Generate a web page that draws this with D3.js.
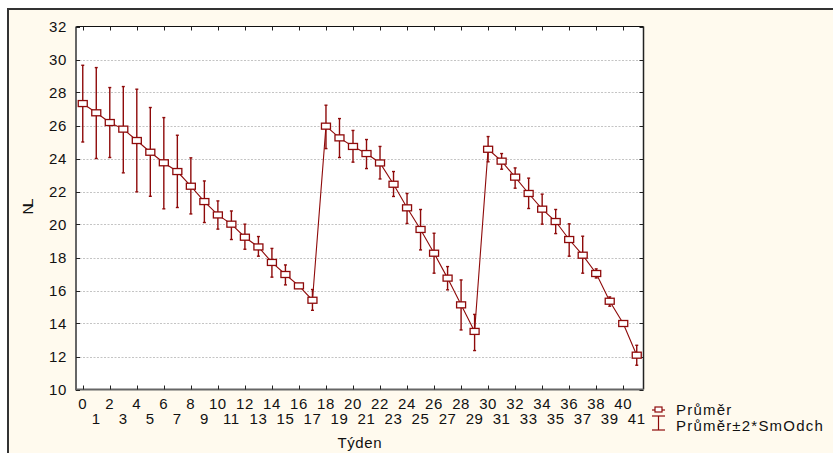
<!DOCTYPE html>
<html>
<head>
<meta charset="utf-8">
<script src="https://cdn.jsdelivr.net/npm/d3@7/dist/d3.min.js"></script>
<style>
  html, body { margin: 0; padding: 0; background: #ffffff; }
  svg { display: block; font-family: "Liberation Sans", Arial, sans-serif; }
  .lbl { font-size: 15px; letter-spacing: 0.6px; fill: #111; }
  .leg { font-size: 15px; letter-spacing: 1.2px; fill: #111; }
</style>
</head>
<body>
<svg id="chart" width="833" height="453"></svg>
<script>
// Weekly mean of NL with ±2 standard deviation bounds
const weeks = d3.range(0, 42);
const means = [27.33, 26.77, 26.18, 25.78, 25.09, 24.38, 23.74, 23.21, 22.32, 21.39,
               20.58, 20.02, 19.23, 18.64, 17.70, 16.97, 16.28, 15.41,
               25.96, 25.25, 24.73, 24.30, 23.73, 22.44, 21.01, 19.70, 18.26, 16.75, 15.13, 13.52,
               24.56, 23.84, 22.87, 21.88, 20.93, 20.18, 19.09, 18.14, 17.03, 15.35, 14.00, 12.08];
const upper = [29.65, 29.51, 28.30, 28.36, 28.20, 27.09, 26.48, 25.41, 24.04, 22.64,
               21.43, 20.82, 20.02, 19.27, 18.55, 17.55, 16.40, 16.06,
               27.23, 26.42, 25.70, 25.15, 24.73, 23.21, 21.88, 20.91, 19.47, 17.45, 16.64, 14.55,
               25.33, 24.30, 23.43, 22.81, 21.84, 20.91, 20.04, 19.29, 17.31, 15.61, 14.08, 12.68];
const lower = [25.00, 24.00, 24.06, 23.13, 21.98, 21.71, 20.95, 21.03, 20.64, 20.12,
               19.72, 19.09, 18.50, 18.08, 16.81, 16.34, 16.16, 14.80,
               24.60, 24.06, 23.78, 23.39, 22.76, 21.70, 20.06, 18.46, 17.05, 16.04, 13.61, 12.36,
               23.80, 23.35, 22.20, 20.97, 20.02, 19.45, 18.08, 17.05, 16.76, 15.05, 13.92, 11.47];
const yTicks = [10, 12, 14, 16, 18, 20, 22, 24, 26, 28, 30, 32];
const xLabel = "Týden";
const yLabel = "NL";
const legendLabels = ["Průměr", "Průměr±2*SmOdch"];

const color = "#8e0a0a";
const svg = d3.select("#chart");

// outer panel
svg.append("rect").attr("x", 8).attr("y", 9).attr("width", 830).attr("height", 450)
  .attr("fill", "#fffaee").attr("stroke", "#333").attr("stroke-width", 2);

const plot = { left: 76, top: 26.5, right: 643.5, bottom: 389.5 };
const x = d3.scaleLinear().domain([-0.5, 41.5]).range([plot.left, plot.right]);
const y = d3.scaleLinear().domain([10, 32]).range([plot.bottom, plot.top]);

svg.append("rect").attr("x", plot.left).attr("y", plot.top)
  .attr("width", plot.right - plot.left).attr("height", plot.bottom - plot.top)
  .attr("fill", "#ffffff");

// horizontal gridlines
svg.append("g").selectAll("line").data(yTicks.filter(v => v > 10 && v < 32)).join("line")
  .attr("x1", plot.left).attr("x2", plot.right)
  .attr("y1", d => Math.round(y(d)) + 0.5).attr("y2", d => Math.round(y(d)) + 0.5)
  .attr("stroke", "#c4c4c4").attr("stroke-dasharray", "2,1.5");

// frame: top/right thin black, left/bottom heavier gray
svg.append("line").attr("x1", plot.left).attr("x2", plot.right).attr("y1", plot.top).attr("y2", plot.top)
  .attr("stroke", "#111").attr("stroke-width", 1.2);
svg.append("line").attr("x1", plot.right).attr("x2", plot.right).attr("y1", plot.top).attr("y2", plot.bottom)
  .attr("stroke", "#222").attr("stroke-width", 1.5);
svg.append("line").attr("x1", plot.left).attr("x2", plot.left).attr("y1", plot.top).attr("y2", plot.bottom + 1)
  .attr("stroke", "#666").attr("stroke-width", 2);
svg.append("line").attr("x1", plot.left).attr("x2", plot.right).attr("y1", plot.bottom).attr("y2", plot.bottom)
  .attr("stroke", "#666").attr("stroke-width", 2);

// inward ticks on all four sides
const evenWeeks = weeks.filter(w => w % 2 === 0);
const tickG = svg.append("g").attr("stroke", "#222").attr("stroke-width", 1);
tickG.selectAll(".tt").data(evenWeeks).join("line")
  .attr("x1", d => Math.round(x(d)) + 0.5).attr("x2", d => Math.round(x(d)) + 0.5)
  .attr("y1", plot.top).attr("y2", plot.top + 4);
tickG.selectAll(".tb").data(evenWeeks).join("line")
  .attr("x1", d => Math.round(x(d)) + 0.5).attr("x2", d => Math.round(x(d)) + 0.5)
  .attr("y1", plot.bottom).attr("y2", plot.bottom - 4);
tickG.selectAll(".tl").data(yTicks).join("line")
  .attr("x1", plot.left).attr("x2", plot.left + 4)
  .attr("y1", d => Math.round(y(d)) + 0.5).attr("y2", d => Math.round(y(d)) + 0.5);
tickG.selectAll(".tr").data(yTicks).join("line")
  .attr("x1", plot.right).attr("x2", plot.right - 4)
  .attr("y1", d => Math.round(y(d)) + 0.5).attr("y2", d => Math.round(y(d)) + 0.5);

// y tick labels
svg.append("g").selectAll("text").data(yTicks).join("text")
  .attr("class", "lbl")
  .attr("x", 67).attr("y", d => y(d)).attr("dy", "0.35em")
  .attr("text-anchor", "end")
  .text(d => d);

// x tick labels in two staggered rows
svg.append("g").selectAll("text").data(weeks).join("text")
  .attr("class", "lbl")
  .attr("x", d => x(d)).attr("y", d => d % 2 === 0 ? 409 : 424)
  .attr("text-anchor", "middle")
  .text(d => d);

// axis titles
svg.append("text").attr("class", "lbl").attr("x", (plot.left + plot.right) / 2).attr("y", 448)
  .attr("text-anchor", "middle").text(xLabel);
svg.append("text").attr("transform", "translate(33,208) rotate(-90)")
  .attr("text-anchor", "middle").attr("font-size", 15).attr("fill", "#111")
  .attr("letter-spacing", -3).text(yLabel);

// error bars
const eb = svg.append("g").attr("stroke", color).attr("stroke-width", 1.4);
eb.selectAll(".v").data(weeks).join("line")
  .attr("x1", d => x(d)).attr("x2", d => x(d))
  .attr("y1", d => y(upper[d])).attr("y2", d => y(lower[d]));
eb.selectAll(".cu").data(weeks).join("line")
  .attr("x1", d => x(d) - 1.5).attr("x2", d => x(d) + 1.5)
  .attr("y1", d => y(upper[d])).attr("y2", d => y(upper[d]));
eb.selectAll(".cl").data(weeks).join("line")
  .attr("x1", d => x(d) - 1.5).attr("x2", d => x(d) + 1.5)
  .attr("y1", d => y(lower[d])).attr("y2", d => y(lower[d]));

// mean line
svg.append("path").datum(weeks)
  .attr("fill", "none").attr("stroke", color).attr("stroke-width", 1.1)
  .attr("d", d3.line().x(d => x(d)).y(d => y(means[d])));

// mean markers
svg.append("g").selectAll("rect").data(weeks).join("rect")
  .attr("x", d => x(d) - 4.5).attr("y", d => y(means[d]) - 3)
  .attr("width", 9).attr("height", 6)
  .attr("fill", "#ffffff").attr("stroke", color).attr("stroke-width", 1.3);

// legend
const lg = svg.append("g");
lg.append("line").attr("x1", 652).attr("x2", 665).attr("y1", 410).attr("y2", 410)
  .attr("stroke", color).attr("stroke-width", 1.2);
lg.append("rect").attr("x", 655).attr("y", 407).attr("width", 7).attr("height", 5)
  .attr("fill", "#fff").attr("stroke", color).attr("stroke-width", 1.2);
lg.append("text").attr("class", "leg").attr("x", 676).attr("y", 415).text(legendLabels[0]);
lg.append("line").attr("x1", 658.5).attr("x2", 658.5).attr("y1", 416).attr("y2", 430)
  .attr("stroke", color).attr("stroke-width", 1.2);
lg.append("line").attr("x1", 652).attr("x2", 665).attr("y1", 416).attr("y2", 416)
  .attr("stroke", color).attr("stroke-width", 1.2);
lg.append("line").attr("x1", 652).attr("x2", 665).attr("y1", 430).attr("y2", 430)
  .attr("stroke", color).attr("stroke-width", 1.2);
lg.append("text").attr("class", "leg").attr("x", 676).attr("y", 431).text(legendLabels[1]);
</script>
</body>
</html>
